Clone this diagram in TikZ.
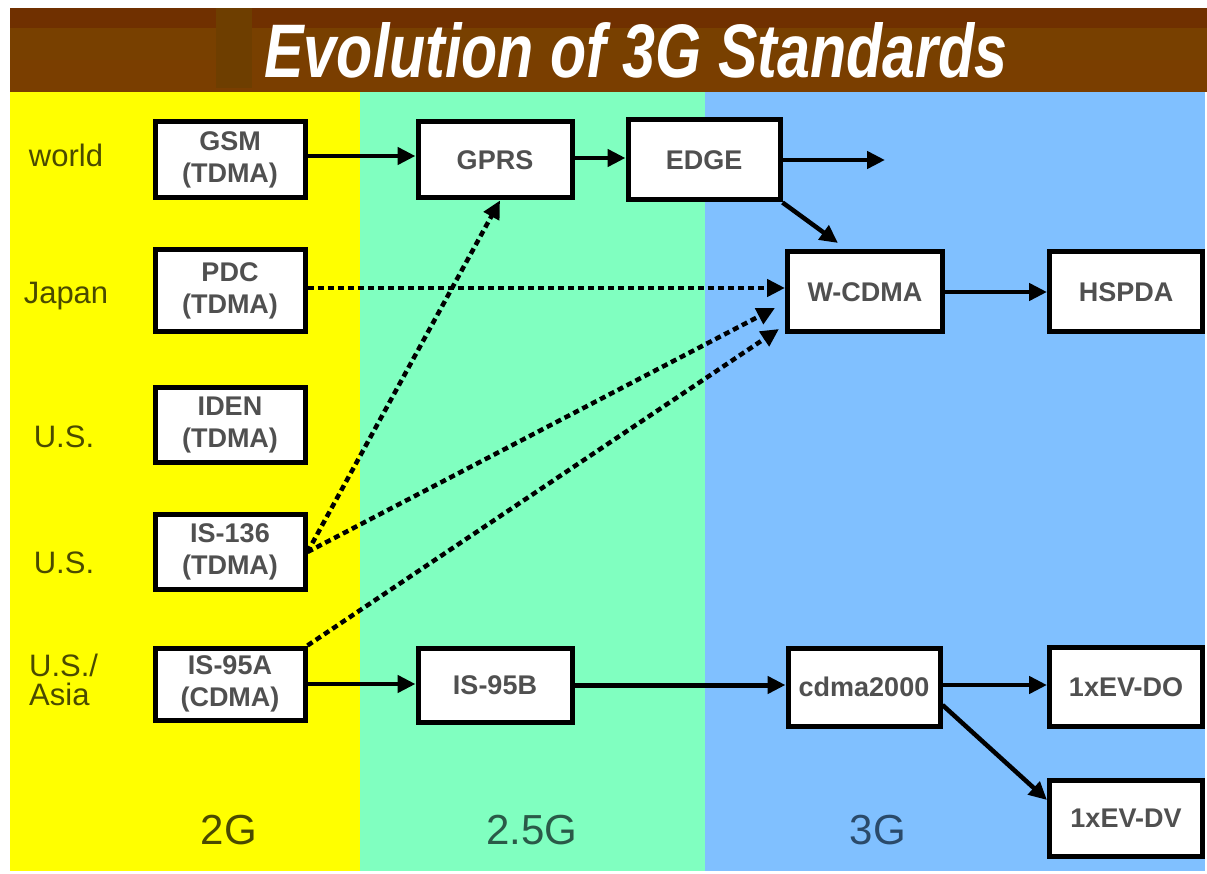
\documentclass[tikz,border=0pt]{standalone}
\usepackage{fontspec}
\setmainfont{Liberation Sans}
\usetikzlibrary{arrows.meta}
\definecolor{ybg}{HTML}{FFFF00}
\definecolor{gbg}{HTML}{80FFC0}
\definecolor{bbg}{HTML}{80C0FF}
\definecolor{brnA}{HTML}{703000}
\definecolor{brnB}{HTML}{784000}
\definecolor{brnC}{HTML}{7A3E00}
\definecolor{brnD}{HTML}{6E3E00}
\definecolor{ylab}{HTML}{4A4A00}
\definecolor{glab}{HTML}{2A5A48}
\definecolor{blab}{HTML}{2A4A6A}
\definecolor{boxtext}{HTML}{505050}
\begin{document}
\begin{tikzpicture}[x=1pt,y=-1pt,
  box/.style={draw=black,line width=5pt,fill=white,inner sep=0pt,
    minimum width=150pt,minimum height=76pt,align=center,text=boxtext,
    font=\bfseries\fontsize{27}{32}\selectfont},
  rowlab/.style={text=ylab,font=\fontsize{31}{33}\selectfont,align=left},
  genlab/.style={font=\fontsize{42}{44}\selectfont},
  conn/.style={line width=4.5pt,-{Triangle[length=18pt,width=17pt]}},
  dconn/.style={conn,dash pattern=on 6pt off 4pt}]
\useasboundingbox (0,0) rectangle (1207,874);
\fill[white] (0,0) rectangle (1207,874);
% title bar
\fill[brnA] (10,8) rectangle (1207,92);
\fill[brnB] (10,28) rectangle (1207,60);
\fill[brnC] (10,60) rectangle (1207,92);
\fill[brnD] (216,8) rectangle (252,88);
\node[text=white,inner sep=0pt] (title) at (636,50)
  {\resizebox{743pt}{55pt}{\bfseries\itshape Evolution of 3G Standards}};
% bands
\fill[ybg] (10,92) rectangle (360,871);
\fill[gbg] (360,92) rectangle (705,871);
\fill[bbg] (705,92) rectangle (1205,871);
% row labels
\node[rowlab] (lworld) at (66,155) {world};
\node[rowlab] (ljapan) at (66,296) {Japan};
\node[rowlab] (lus1) at (64,437) {U.S.};
\node[rowlab] (lus2) at (64,563) {U.S.};
\node[rowlab,anchor=west,inner sep=0pt] (lasia) at (29,680) {U.S./\\[-4pt]Asia};
% generation labels
\node[genlab,text=ylab] (g2) at (229,830) {2G};
\node[genlab,text=glab] (g25) at (532,830) {2.5G};
\node[genlab,text=blab] (g3) at (878,830) {3G};
% boxes
\node[box] (gsm) at (230,160) {GSM\\(TDMA)};
\node[box,minimum width=154pt] (gprs) at (495,160) {GPRS};
\node[box,minimum width=152pt,minimum height=80pt] (edge) at (704,160) {EDGE};
\node[box,minimum height=82pt] (pdc) at (230,291) {PDC\\(TDMA)};
\node[box,minimum width=155pt,minimum height=80pt] (wcdma) at (865,292) {W-CDMA};
\node[box,minimum width=153pt,minimum height=80pt] (hspda) at (1126,292) {HSPDA};
\node[box,minimum height=75pt] (iden) at (230,425) {IDEN\\(TDMA)};
\node[box,minimum height=75pt] (is136) at (230,552) {IS-136\\(TDMA)};
\node[box,minimum height=72pt] (is95a) at (230,684) {IS-95A\\(CDMA)};
\node[box,minimum width=154pt,minimum height=74pt] (is95b) at (495,685) {IS-95B};
\node[box,minimum width=152pt,minimum height=78pt] (cdma) at (864,687) {cdma2000};
\node[box,minimum width=153pt,minimum height=79pt] (evdo) at (1126,687) {1xEV-DO};
\node[box,minimum width=153pt,minimum height=76pt] (evdv) at (1126,818) {1xEV-DV};
% free ends
\coordinate (edgeout) at (885,160);
\coordinate (edgedown) at (838,243);
% connectors
\draw[conn] ([yshift=4pt]gsm.east) -- ([yshift=4pt]gprs.west);
\draw[conn] ([yshift=2pt]gprs.east) -- ([yshift=2pt]edge.west);
\draw[conn] (edge.east) -- (edgeout);
\draw[conn] (edge.south east) -- (edgedown);
\draw[dconn] ([yshift=3pt]pdc.east) -- ([yshift=3pt]pdc.east -| wcdma.west);
\draw[conn] (wcdma) -- (hspda);
\draw[dconn] (is136.east) -- ([xshift=5pt]gprs.south);
\draw[dconn] (is136.east) -- ([xshift=-10pt,yshift=-16pt]wcdma.west);
\draw[dconn] (is95a.north east) -- ([xshift=-6pt,yshift=-37pt]wcdma.west);
\draw[conn] (is95a.east) -- (is95a.east -| is95b.west);
\draw[conn,line width=5pt] (is95b.east) -- (is95b.east -| cdma.west);
\draw[conn] ([yshift=2pt]cdma.east) -- ([yshift=2pt]cdma.east -| evdo.west);
\draw[conn] ([yshift=-18pt]cdma.east) -- ([yshift=18pt]evdv.west);
\end{tikzpicture}
\end{document}
